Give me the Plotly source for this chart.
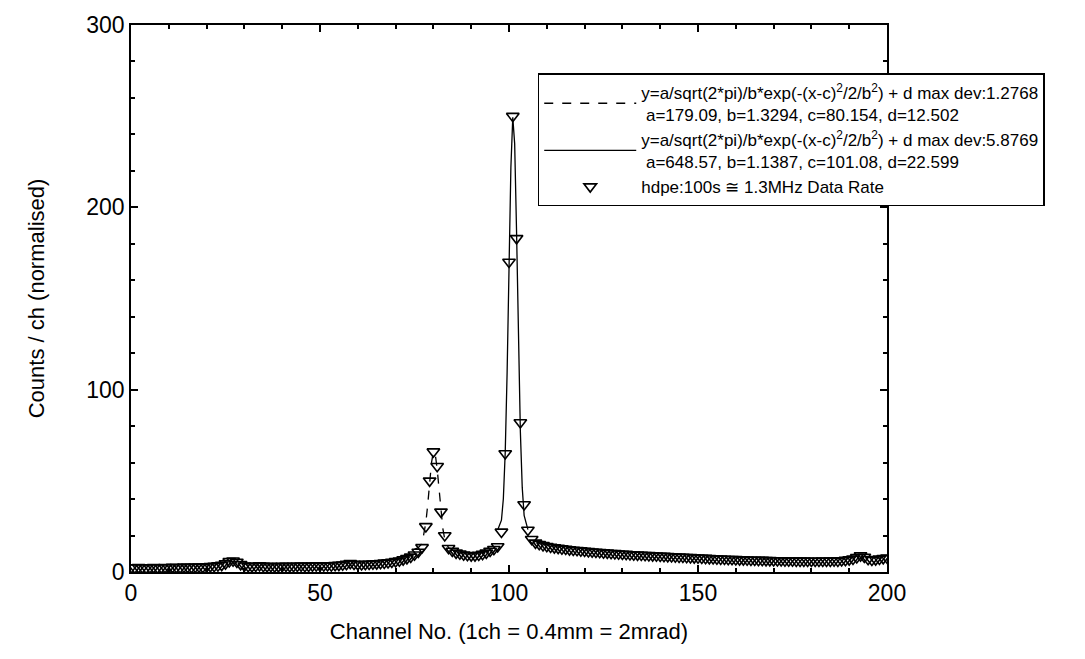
import plotly.graph_objects as go

# Measured data (channel 0..200)
channels = list(range(201))
counts = (
    [2.5, 2.4, 2.6, 2.5, 2.3, 2.5, 2.6, 2.4, 2.5, 2.6, 2.5, 2.7, 2.6, 2.5, 2.8, 2.7, 2.6, 2.8, 2.9, 2.7, 3.0, 3.1, 3.2, 3.5, 3.8]
    + [4.6, 5.8, 6.2, 5.5, 4.2]
    + [3.4, 3.2, 3.1, 3.3, 3.6, 3.2, 3.1, 3.2, 3.0, 3.1, 3.2, 3.3, 3.1, 3.2, 3.3, 3.4, 3.2, 3.3, 3.4, 3.5, 3.4, 3.5, 3.6, 3.5, 3.7, 3.8]
    + [4.0, 4.3, 4.8, 4.4, 4.2, 4.1, 4.3, 4.4, 4.5, 4.6, 4.8, 5.0, 5.2, 5.5, 5.8]
    + [6.2, 6.8, 7.5, 8.3, 9.5, 11, 13.5]
    + [25, 50, 66, 58, 33, 20, 13]
    + [11.5, 10.5, 10, 9.5, 9.2, 9, 9, 9.3, 9.8, 10.5, 11.5, 12.5, 14]
    + [22, 65, 170, 250, 183, 82, 37, 23, 18]
    + [16, 15.2, 14.6, 14.1, 13.7, 13.4, 13.1, 12.8, 12.6, 12.3, 12.1, 11.9, 11.7, 11.5]
    + [11.3, 11.1, 11, 10.8, 10.6, 10.5, 10.3, 10.2, 10, 9.9, 9.8, 9.6, 9.5, 9.4, 9.3, 9.2, 9.1, 9, 8.9, 8.8]
    + [8.7, 8.6, 8.5, 8.4, 8.3, 8.2, 8.1, 8, 7.9, 7.8, 7.7, 7.6, 7.5, 7.4, 7.3, 7.2, 7.1, 7.0, 7.0, 6.9]
    + [6.8, 6.8, 6.7, 6.6, 6.6, 6.5, 6.5, 6.4, 6.4, 6.3, 6.3, 6.3, 6.2, 6.2, 6.2, 6.1, 6.1, 6.1, 6.0, 6.0]
    + [6.0, 6.0, 6.1, 6.0, 6.1, 6.2, 6.1, 6.3, 6.5, 6.8, 7.2, 8.0, 9.0, 8.2, 7.0, 6.6, 6.8, 7.2, 7.5, 7.8]
)

# Fit curve 1 (dashed), peak near channel 80
fit1_x = [75, 76, 77, 78, 78.5, 79, 79.5, 80, 80.5, 81, 81.5, 82, 82.5, 83, 84, 85]
fit1_y = [12.6, 13.3, 15.7, 27, 37, 49.4, 60, 66, 64.5, 56.4, 44.7, 33, 23.8, 18, 13.3, 12.6]

# Fit curve 2 (solid), peak near channel 101
fit2_x = [97, 98, 98.5, 99, 99.5, 100, 100.5, 101, 101.5, 102, 102.5, 103, 103.5, 104, 105]
fit2_y = [23, 28.4, 40, 65.5, 109.3, 167.6, 222, 249.4, 234.8, 186.5, 127, 77.4, 46.4, 31.1, 23.2]

fit1_name = ("y=a/sqrt(2*pi)/b*exp(-(x-c)<sup>2</sup>/2/b<sup>2</sup>) + d max dev:1.2768"
             "<br> a=179.09, b=1.3294, c=80.154, d=12.502")
fit2_name = ("y=a/sqrt(2*pi)/b*exp(-(x-c)<sup>2</sup>/2/b<sup>2</sup>) + d max dev:5.8769"
             "<br> a=648.57, b=1.1387, c=101.08, d=22.599")
data_name = "hdpe:100s \u2245 1.3MHz Data Rate"

fig = go.Figure()
fig.add_trace(go.Scatter(x=fit1_x, y=fit1_y, mode="lines", name=fit1_name,
                         line=dict(color="black", width=1.3, dash="dash")))
fig.add_trace(go.Scatter(x=fit2_x, y=fit2_y, mode="lines", name=fit2_name,
                         line=dict(color="black", width=1.3)))
fig.add_trace(go.Scatter(x=channels, y=counts, mode="markers", name=data_name,
                         marker=dict(symbol="triangle-down-open", size=11,
                                     color="black", line=dict(width=1.6, color="black"))))

axis_common = dict(
    showline=True, linecolor="black", linewidth=1.5, mirror="ticks",
    ticks="inside", ticklen=7, tickwidth=1.5, tickcolor="black",
    showgrid=False, zeroline=False,
    tickfont=dict(family="Liberation Sans, Arial", size=23, color="black"),
)

fig.update_layout(
    width=1085, height=659,
    margin=dict(l=131, r=198, t=23, b=87),
    paper_bgcolor="white", plot_bgcolor="white",
    font=dict(family="Liberation Sans, Arial", color="black"),
    xaxis=dict(range=[0, 200], dtick=50, tick0=0,
               minor=dict(dtick=10, ticks="inside", ticklen=4, tickcolor="black"),
               title=dict(text="Channel No. (1ch = 0.4mm = 2mrad)",
                          font=dict(size=22), standoff=18),
               **axis_common),
    yaxis=dict(range=[0, 300], dtick=100, tick0=0,
               minor=dict(dtick=20, ticks="inside", ticklen=4, tickcolor="black"),
               title=dict(text="Counts / ch (normalised)",
                          font=dict(size=22), standoff=36),
               **axis_common),
    legend=dict(x=0.538, y=0.912, xanchor="left", yanchor="top",
                bgcolor="white", bordercolor="black", borderwidth=1.5,
                font=dict(family="Liberation Sans, Arial", size=17, color="black"),
                itemwidth=92),
    showlegend=True,
)

fig.write_html("out.html")
